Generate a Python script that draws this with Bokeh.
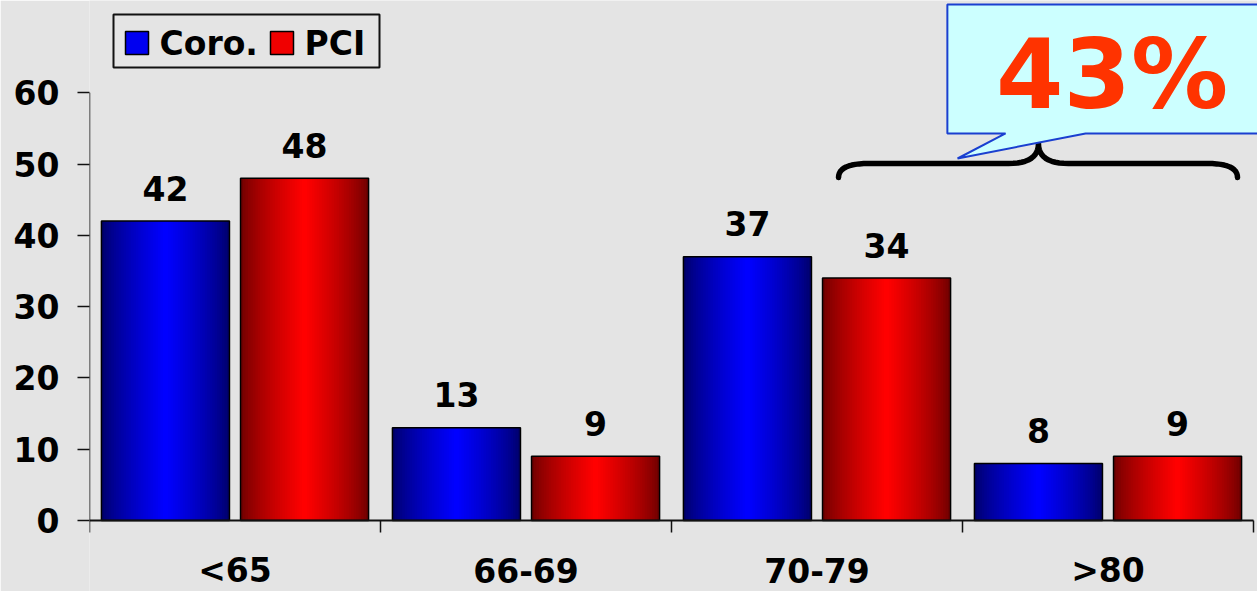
from bokeh.plotting import figure
from bokeh.models import ColumnDataSource, Range1d, FixedTicker, Label
from bokeh.core.properties import value
from bokeh.embed import file_html
from bokeh.resources import INLINE

# ---- data ----
categories = ["<65", "66-69", "70-79", ">80"]
coro = [42, 13, 37, 8]
pci = [48, 9, 34, 9]
series_names = ["Coro.", "PCI"]
y_ticks = [0, 10, 20, 30, 40, 50, 60]
highlight_text = "43%"

FONT = value("DejaVu Sans")
BG = "#e4e4e4"
BAR_W = 0.44
OFF = 0.239
PX = 1 / 291.0          # one pixel in x data units
PY = 1 / 7.13           # one pixel in y data units

xc = [i + 0.5 for i in range(len(categories))]   # category centres on the scale
src = ColumnDataSource(dict(
    xc=xc,
    xa=[x - OFF for x in xc],
    xb=[x + OFF for x in xc],
    cat=categories,
    coro=coro,
    pci=pci,
    coro_lbl=[str(v) for v in coro],
    pci_lbl=[str(v) for v in pci],
))

p = figure(width=1257, height=591,
           x_range=Range1d(0, 1168 * PX),
           y_range=Range1d(-71 * PY, 520 * PY),
           output_backend="svg", toolbar_location=None,
           min_border_left=89, min_border_right=0,
           min_border_top=0, min_border_bottom=0)
p.background_fill_color = BG
p.border_fill_color = BG
p.outline_line_color = None
p.xgrid.visible = False
p.ygrid.visible = False
p.xaxis.visible = False

# y axis: ticks and labels from Bokeh, axis line drawn from 0 to 60
ya = p.yaxis[0]
ya.ticker = FixedTicker(ticks=y_ticks)
ya.axis_line_color = None
ya.major_tick_line_color = "#111111"
ya.major_tick_line_width = 1.5
ya.major_tick_out = 12
ya.major_tick_in = 0
ya.minor_tick_line_color = None
ya.major_label_text_font = "DejaVu Sans"
ya.major_label_text_font_style = "bold"
ya.major_label_text_font_size = "33px"
ya.major_label_text_color = "black"
ya.major_label_standoff = 18
p.line(x=[0, 0], y=[y_ticks[0], y_ticks[-1]], line_color="#111111", line_width=1.5)

N = 26


def blend(c0, c1, t):
    return "#%02x%02x%02x" % tuple(int(round(a + (b - a) * t)) for a, b in zip(c0, c1))


def gradient_bars(xcol, col, dark, bright):
    for k in range(N):
        frac = 1 - k / N
        t = k / (N - 1)
        p.vbar(x=xcol, top=col, bottom=0, width=BAR_W * frac, source=src,
               fill_color=blend(dark, bright, t ** 0.75), line_color=None)
    p.vbar(x=xcol, top=col, bottom=0, width=BAR_W, source=src, fill_color=None,
           line_color="black", line_width=1.5)


gradient_bars("xa", "coro", (0, 0, 0x6a), (0, 0, 0xff))
gradient_bars("xb", "pci", (0x6e, 0, 0), (0xff, 0, 0))

# value labels
for xcol, col, lbl in (("xa", "coro", "coro_lbl"), ("xb", "pci", "pci_lbl")):
    p.text(x=xcol, y=col, text=lbl, source=src,
           text_align="center", text_baseline="alphabetic", y_offset=-33,
           text_font=FONT, text_font_style="bold", text_font_size="33px",
           text_color="black")

# x axis (drawn in the frame)
nb = len(categories)
p.line(x=[0, nb], y=[0, 0], line_color="#111111", line_width=2)
p.multi_line(xs=[[i, i] for i in range(nb + 1)], ys=[[0, -12 * PY]] * (nb + 1),
             line_color="#111111", line_width=1.5)
p.text(x="xc", y=0, text="cat", source=src, y_offset=50,
       text_align="center", text_baseline="alphabetic",
       text_font=FONT, text_font_style="bold", text_font_size="33px",
       text_color="black")


# brace (decoration): quadratic curves sampled into one polyline
def quad(p0, c, p1, n=12):
    out = []
    for i in range(n + 1):
        t = i / n
        out.append(((1 - t) ** 2 * p0[0] + 2 * (1 - t) * t * c[0] + t * t * p1[0],
                    (1 - t) ** 2 * p0[1] + 2 * (1 - t) * t * c[1] + t * t * p1[1]))
    return out


yl, yt, yp = 50.07, 48.1, 52.87
pts = (quad((2.574, yt), (2.574, yl), (2.677, yl))
       + quad((3.158, yl), (3.261, yl), (3.261, yp))
       + quad((3.261, yp), (3.261, yl), (3.364, yl))
       + quad((3.842, yl), (3.945, yl), (3.945, yt)))
p.line(x=[q[0] for q in pts], y=[q[1] for q in pts], line_color="black",
       line_width=5.5, line_cap="round", line_join="round")

# legend (drawn as glyphs)
lx0, ly0 = 24 * PX, 506 * PY           # legend box top-left
p.quad(left=[lx0], right=[lx0 + 266 * PX], top=[ly0], bottom=[ly0 - 53 * PY],
       fill_color=BG, line_color="#111111", line_width=2)
sw_x = [lx0 + 12 * PX, lx0 + 157 * PX]
p.quad(left=sw_x, right=[s + 23 * PX for s in sw_x],
       top=[ly0 - 17 * PY] * 2, bottom=[ly0 - 40 * PY] * 2,
       fill_color=["#0000f0", "#f00000"], line_color="black", line_width=1.5)
p.text(x=[s + 34 * PX for s in sw_x], y=[ly0 - 29 * PY] * 2, text=series_names,
       text_align="left", text_baseline="alphabetic", text_font=FONT,
       text_font_style="bold", text_font_size="33px", text_color="black")

# callout bubble
cx = [2.948, 4.05, 4.05, 3.423, 2.983, 3.148, 2.948]
cy = [72.37, 72.37, 54.28, 54.28, 50.77, 54.28, 54.28]
p.patch(cx, cy, fill_color="#ccffff", line_color="#1a3fd0", line_width=2)
p.add_layout(Label(x=3.514, y=62.6, text=highlight_text, text_align="center",
                   text_baseline="alphabetic", text_font="DejaVu Sans",
                   text_font_style="bold", text_font_size="97px",
                   text_color="#ff3300"))

open("out.html", "w").write(file_html(p, INLINE))
